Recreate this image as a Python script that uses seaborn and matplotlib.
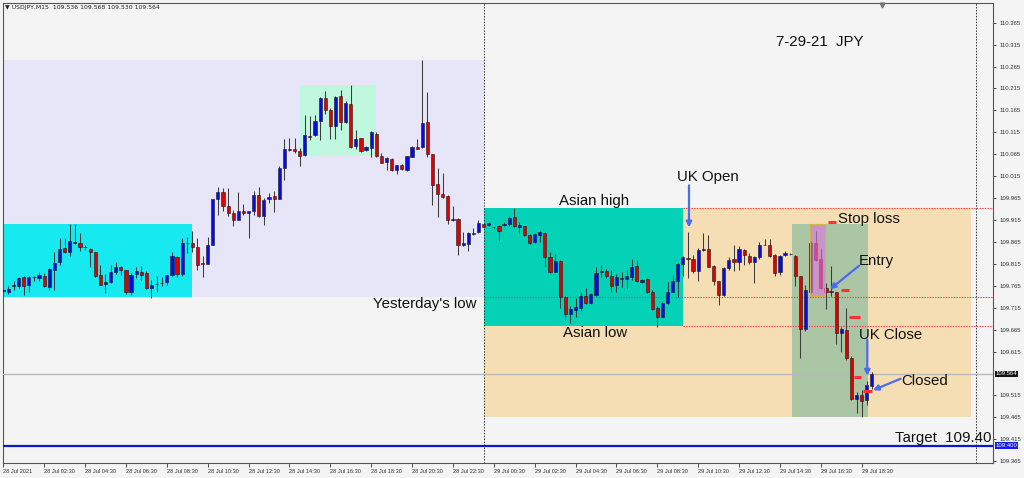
import matplotlib
matplotlib.use("Agg")
import matplotlib.pyplot as plt
from matplotlib.patches import Rectangle
from matplotlib.transforms import blended_transform_factory
import numpy as np
import pandas as pd
import seaborn as sns

# USDJPY M15, 28 Jul 00:30 -> 29 Jul 19:00 (one value per candle)
opens = [
    109.753, 109.752, 109.765, 109.765, 109.784, 109.768, 109.784, 109.783, 109.788, 109.762,
    109.800, 109.819, 109.851, 109.841, 109.866, 109.863, 109.853, 109.850, 109.841, 109.790,
    109.769, 109.773, 109.796, 109.808, 109.800, 109.752, 109.793, 109.796, 109.794, 109.760,
    109.769, 109.771, 109.773, 109.790, 109.831, 109.793, 109.863, 109.863, 109.853, 109.815,
    109.815, 109.859, 109.962, 109.979, 109.947, 109.932, 109.916, 109.936, 109.931, 109.935,
    109.971, 109.924, 109.963, 109.969, 109.964, 110.034, 110.077, 110.076, 110.072, 110.064,
    110.107, 110.108, 110.140, 110.194, 110.167, 110.129, 110.197, 110.138, 110.180, 110.083,
    110.102, 110.074, 110.080, 110.112, 110.062, 110.048, 110.055, 110.029, 110.041, 110.028,
    110.059, 110.081, 110.081, 110.138, 110.065, 109.997, 109.975, 109.969, 109.914, 109.917,
    109.858, 109.861, 109.883, 109.887, 109.906, 109.903, 109.899, 109.901, 109.903, 109.907,
    109.921, 109.899, 109.901, 109.882, 109.865, 109.882, 109.886, 109.830, 109.797, 109.822,
    109.739, 109.700, 109.709, 109.714, 109.742, 109.726, 109.743, 109.796, 109.799, 109.787,
    109.767, 109.782, 109.780, 109.785, 109.811, 109.774, 109.780, 109.750, 109.714, 109.695,
    109.726, 109.752, 109.775, 109.815, 109.829, 109.826, 109.798, 109.846, 109.849, 109.810,
    109.775, 109.743, 109.806, 109.826, 109.819, 109.847, 109.834, 109.819, 109.831, 109.858,
    109.857, 109.836, 109.796, 109.836, 109.838, 109.834, 109.787, 109.667, 109.752, 109.863,
    109.827, 109.760, 109.752, 109.750, 109.657, 109.665, 109.600, 109.507, 109.515, 109.505,
    109.536,
]
highs = [
    109.757, 109.764, 109.777, 109.784, 109.787, 109.787, 109.787, 109.797, 109.794, 109.806,
    109.842, 109.874, 109.874, 109.905, 109.907, 109.886, 109.859, 109.851, 109.842, 109.813,
    109.793, 109.813, 109.819, 109.811, 109.802, 109.794, 109.808, 109.811, 109.798, 109.779,
    109.787, 109.785, 109.790, 109.841, 109.832, 109.874, 109.876, 109.889, 109.874, 109.832,
    109.876, 109.963, 109.990, 109.988, 109.988, 109.939, 109.979, 109.952, 109.936, 109.981,
    109.990, 109.965, 109.977, 109.981, 110.038, 110.099, 110.101, 110.101, 110.080, 110.154,
    110.152, 110.154, 110.195, 110.209, 110.171, 110.198, 110.211, 110.186, 110.223, 110.121,
    110.103, 110.083, 110.118, 110.116, 110.067, 110.059, 110.056, 110.041, 110.042, 110.062,
    110.083, 110.099, 110.281, 110.207, 110.066, 110.034, 110.022, 109.971, 109.946, 109.920,
    109.887, 109.887, 109.897, 109.916, 109.908, 109.910, 109.899, 109.904, 109.911, 109.924,
    109.943, 109.910, 109.902, 109.883, 109.885, 109.889, 109.887, 109.842, 109.838, 109.825,
    109.741, 109.718, 109.737, 109.750, 109.760, 109.748, 109.808, 109.813, 109.803, 109.802,
    109.792, 109.796, 109.800, 109.827, 109.825, 109.780, 109.782, 109.755, 109.718, 109.729,
    109.773, 109.790, 109.817, 109.834, 109.887, 109.836, 109.851, 109.886, 109.882, 109.813,
    109.777, 109.807, 109.831, 109.859, 109.855, 109.849, 109.840, 109.832, 109.864, 109.872,
    109.872, 109.838, 109.836, 109.844, 109.839, 109.836, 109.788, 109.768, 109.867, 109.889,
    109.851, 109.771, 109.811, 109.752, 109.672, 109.714, 109.604, 109.522, 109.528, 109.547,
    109.568,
]
lows = [
    109.750, 109.746, 109.756, 109.760, 109.743, 109.752, 109.775, 109.777, 109.762, 109.756,
    109.756, 109.813, 109.840, 109.832, 109.861, 109.844, 109.846, 109.809, 109.785, 109.767,
    109.749, 109.771, 109.793, 109.790, 109.747, 109.745, 109.783, 109.779, 109.758, 109.737,
    109.752, 109.765, 109.768, 109.788, 109.785, 109.788, 109.840, 109.841, 109.802, 109.785,
    109.814, 109.859, 109.927, 109.935, 109.924, 109.902, 109.915, 109.926, 109.873, 109.926,
    109.922, 109.904, 109.954, 109.933, 109.963, 110.007, 110.072, 110.068, 110.039, 110.062,
    110.097, 110.106, 110.097, 110.156, 110.100, 110.100, 110.120, 110.137, 110.079, 110.077,
    110.071, 110.072, 110.058, 110.059, 110.044, 110.029, 110.027, 110.020, 110.030, 110.026,
    110.058, 110.076, 110.079, 110.058, 109.950, 109.922, 109.965, 109.907, 109.912, 109.836,
    109.855, 109.845, 109.880, 109.885, 109.898, 109.902, 109.897, 109.870, 109.901, 109.902,
    109.899, 109.885, 109.879, 109.860, 109.863, 109.866, 109.808, 109.794, 109.796, 109.714,
    109.688, 109.680, 109.694, 109.707, 109.724, 109.724, 109.741, 109.785, 109.783, 109.752,
    109.752, 109.762, 109.760, 109.779, 109.773, 109.771, 109.748, 109.710, 109.672, 109.693,
    109.724, 109.751, 109.739, 109.787, 109.783, 109.794, 109.777, 109.844, 109.808, 109.768,
    109.722, 109.742, 109.802, 109.798, 109.802, 109.813, 109.815, 109.771, 109.827, 109.857,
    109.831, 109.787, 109.790, 109.834, 109.836, 109.765, 109.600, 109.661, 109.749, 109.822,
    109.758, 109.712, 109.741, 109.633, 109.615, 109.596, 109.505, 109.475, 109.465, 109.494,
    109.530,
]
closes = [
    109.755, 109.758, 109.766, 109.783, 109.765, 109.784, 109.785, 109.790, 109.765, 109.803,
    109.817, 109.850, 109.841, 109.868, 109.863, 109.853, 109.854, 109.842, 109.787, 109.768,
    109.773, 109.796, 109.809, 109.800, 109.750, 109.790, 109.799, 109.790, 109.760, 109.768,
    109.769, 109.772, 109.789, 109.832, 109.793, 109.863, 109.862, 109.853, 109.813, 109.815,
    109.858, 109.962, 109.979, 109.946, 109.930, 109.916, 109.936, 109.930, 109.935, 109.973,
    109.924, 109.960, 109.968, 109.964, 110.034, 110.076, 110.074, 110.072, 110.062, 110.110,
    110.105, 110.140, 110.194, 110.166, 110.130, 110.196, 110.138, 110.182, 110.081, 110.099,
    110.072, 110.081, 110.115, 110.060, 110.045, 110.056, 110.028, 110.040, 110.032, 110.060,
    110.082, 110.077, 110.137, 110.066, 109.996, 109.975, 109.968, 109.914, 109.917, 109.859,
    109.863, 109.885, 109.886, 109.908, 109.900, 109.908, 109.898, 109.889, 109.907, 109.920,
    109.901, 109.904, 109.882, 109.863, 109.884, 109.887, 109.831, 109.796, 109.822, 109.739,
    109.701, 109.712, 109.716, 109.742, 109.726, 109.746, 109.794, 109.799, 109.787, 109.765,
    109.784, 109.781, 109.787, 109.808, 109.775, 109.779, 109.750, 109.712, 109.695, 109.726,
    109.752, 109.775, 109.815, 109.830, 109.827, 109.798, 109.847, 109.850, 109.809, 109.775,
    109.743, 109.806, 109.825, 109.819, 109.850, 109.835, 109.819, 109.831, 109.857, 109.859,
    109.832, 109.794, 109.834, 109.840, 109.837, 109.788, 109.667, 109.755, 109.863, 109.825,
    109.760, 109.752, 109.751, 109.657, 109.666, 109.600, 109.507, 109.516, 109.503, 109.539,
    109.564,
]

tick_labels = [
    "28 Jul 2021", "28 Jul 02:30", "28 Jul 04:30", "28 Jul 06:30", "28 Jul 08:30",
    "28 Jul 10:30", "28 Jul 12:30", "28 Jul 14:30", "28 Jul 16:30", "28 Jul 18:30",
    "28 Jul 20:30", "28 Jul 22:30", "29 Jul 00:30", "29 Jul 02:30", "29 Jul 04:30",
    "29 Jul 06:30", "29 Jul 08:30", "29 Jul 10:30", "29 Jul 12:30", "29 Jul 14:30",
    "29 Jul 16:30", "29 Jul 18:30",
]
price_ticks = [
    110.365, 110.315, 110.265, 110.215, 110.165, 110.115, 110.065, 110.015, 109.965,
    109.915, 109.865, 109.815, 109.765, 109.715, 109.665, 109.615, 109.515, 109.465,
    109.415, 109.365,
]

# levels
yday_high, yday_low = 110.281, 109.740
asia28_high = 109.907
uk28_high, uk28_low = 110.222, 110.060
asian_high, asian_low = 109.943, 109.674
range_low = 109.467
trade_top = 109.906
bid = 109.564
target = 109.400

BULL = "#0a0ae6"
BEAR = "#e00000"
BG = "#f4f4f4"
ARROW = "#4a6cf2"

sns.set_theme(style="ticks")
plt.rcParams["font.family"] = ["Liberation Sans", "DejaVu Sans"]

df = pd.DataFrame({
    "bar": np.arange(len(opens)),
    "open": opens, "high": highs, "low": lows, "close": closes,
})
df["body_lo"] = df[["open", "close"]].min(axis=1)
df["body_h"] = (df["close"] - df["open"]).abs().clip(lower=0.0012)
df["side"] = np.where(df["close"] > df["open"], "up", "down")

fig = plt.figure(figsize=(10.24, 4.78), dpi=100, facecolor=BG)
ax = fig.add_axes([3 / 1024, 1 - 463 / 478, 990 / 1024, 460.5 / 478])
ax.set_facecolor(BG)

# session boxes
boxes = [
    (-2, 94, yday_low, yday_high, "#e6e6f8", 1),
    (-2, 37, yday_low, asia28_high, "#16e9f0", 2),
    (58, 73, uk28_low, uk28_high, "#bff7df", 2),
    (94, 189.3, range_low, asian_high, "#f6deb4", 1),
    (94, 133, asian_low, asian_high, "#04d2b6", 2),
    (154.3, 169.3, range_low, trade_top, "#abc6a5", 2),
]
for x0, x1, y0, y1, col, z in boxes:
    ax.add_patch(Rectangle((x0, y0), x1 - x0, y1 - y0, facecolor=col,
                           edgecolor="none", zorder=z))

# red dotted levels
ax.hlines([asian_high, asian_low], 133, 200, colors="#ff3b3b", lw=0.8,
          linestyles=(0, (1.2, 1.2)), zorder=3)
ax.hlines(yday_low, 94, 200, colors="#ff3b3b", lw=0.8,
          linestyles=(0, (1.2, 1.2)), zorder=3)
# day separators
ax.axvline(94, color="#333333", lw=0.7, ls=(0, (1.5, 1.5)), zorder=3)
ax.axvline(190.3, color="#333333", lw=0.7, ls=(0, (1.5, 1.5)), zorder=3)
# bid and target lines
ax.axhline(bid, color="#b9b9b9", lw=1.0, zorder=3)
ax.axhline(target, color="#0d18c8", lw=1.6, zorder=3)

# candles
ax.vlines(df["bar"], df["low"], df["high"], colors="#3c3c3c", lw=0.75, zorder=4)
for side, col in [("up", BULL), ("down", BEAR)]:
    sub = df[df["side"] == side]
    sns.barplot(data=sub, x="bar", y="body_h", bottom=sub["body_lo"].to_numpy(),
                native_scale=True, orient="x", width=0.62, color=col, saturation=1,
                errorbar=None, edgecolor="#1a1a1a", linewidth=0.4, zorder=5, ax=ax)

# stop box over the entry candles
ax.add_patch(Rectangle((157.9, yday_low + 0.001), 2.9, trade_top - yday_low - 0.001,
                       facecolor="#db76df", alpha=0.6, edgecolor="none", zorder=6))
ax.add_patch(Rectangle((157.9, yday_low + 0.001), 2.9, trade_top - yday_low - 0.001,
                       facecolor="none", edgecolor="#d8b040", lw=0.8, zorder=6))

# small red order marks
marks = [(161.4, 162.9, 109.911), (164.0, 165.5, 109.755), (165.5, 167.6, 109.694),
         (166.4, 167.8, 109.556), (168.3, 170.0, 109.526)]
for x0, x1, y in marks:
    ax.hlines(y, x0, x1, colors="#ff3030", lw=2.2, zorder=7)

# annotations
txt = dict(fontsize=10.8, color="#111111", ha="center", va="center", zorder=8)
ax.text(159.8, 110.322, "7-29-21  JPY", **txt)
ax.text(115.7, 109.958, "Asian high", **txt)
ax.text(115.9, 109.657, "Asian low", **txt)
ax.text(137.9, 110.014, "UK Open", **txt)
ax.text(82.5, 109.724, "Yesterday's low", **txt)
ax.text(169.5, 109.918, "Stop loss", **txt)
ax.text(170.9, 109.822, "Entry", **txt)
ax.text(173.6, 109.653, "UK Close", **txt)
ax.text(180.3, 109.548, "Closed", **txt)
ax.text(183.9, 109.419, "Target  109.40", **txt)

arrows = [
    ((134.2, 109.994), (134.2, 109.898)),
    ((167.5, 109.811), (161.8, 109.757)),
    ((169.1, 109.642), (169.1, 109.560)),
    ((175.6, 109.553), (170.2, 109.527)),
]
for start, end in arrows:
    ax.annotate("", xy=end, xytext=start, zorder=8,
                arrowprops=dict(arrowstyle="-|>", color=ARROW, lw=1.6,
                                mutation_scale=8, shrinkA=0, shrinkB=0))

# axes
ax.set_xlim(-0.06, 193.7)
ax.set_ylim(109.361, 110.411)
ax.set_xlabel("")
ax.set_ylabel("")
ax.set_xticks(np.arange(0, 8 * len(tick_labels), 8))
ax.set_xticklabels(tick_labels, ha="left")
ax.yaxis.tick_right()
ax.set_yticks(price_ticks)
ax.set_yticklabels([f"{v:.3f}" for v in price_ticks])
ax.tick_params(axis="x", length=3, width=0.6, labelsize=4.1, pad=1.5,
               colors="#333333")
ax.tick_params(axis="y", length=2.5, width=0.6, labelsize=4.3, pad=2,
               colors="#333333")
for s in ax.spines.values():
    s.set_color("#555555")
    s.set_linewidth(0.8)
ax.grid(False)

yt = blended_transform_factory(ax.transAxes, ax.transData)
ax.text(1.0025, bid, "109.564", transform=yt, fontsize=4.3, color="white",
        va="center", ha="left", clip_on=False,
        bbox=dict(boxstyle="square,pad=0.15", fc="#111111", ec="none"))
ax.text(1.0025, target, "109.400", transform=yt, fontsize=4.3, color="white",
        va="center", ha="left", clip_on=False,
        bbox=dict(boxstyle="square,pad=0.15", fc="#1020f0", ec="none"))

# chart shift marker and header
ax.plot([172.0], [110.405], marker="v", ms=3.5, color="#777777", clip_on=False,
        zorder=9)
fig.text(5 / 1024, 1 - 8 / 478, "\u25BC USDJPY,M15  109.536 109.568 109.530 109.564",
         fontsize=4.4, color="#222222", va="center", ha="left",
         family=["DejaVu Sans"])

fig.savefig("out.png", dpi=100, facecolor=BG)
